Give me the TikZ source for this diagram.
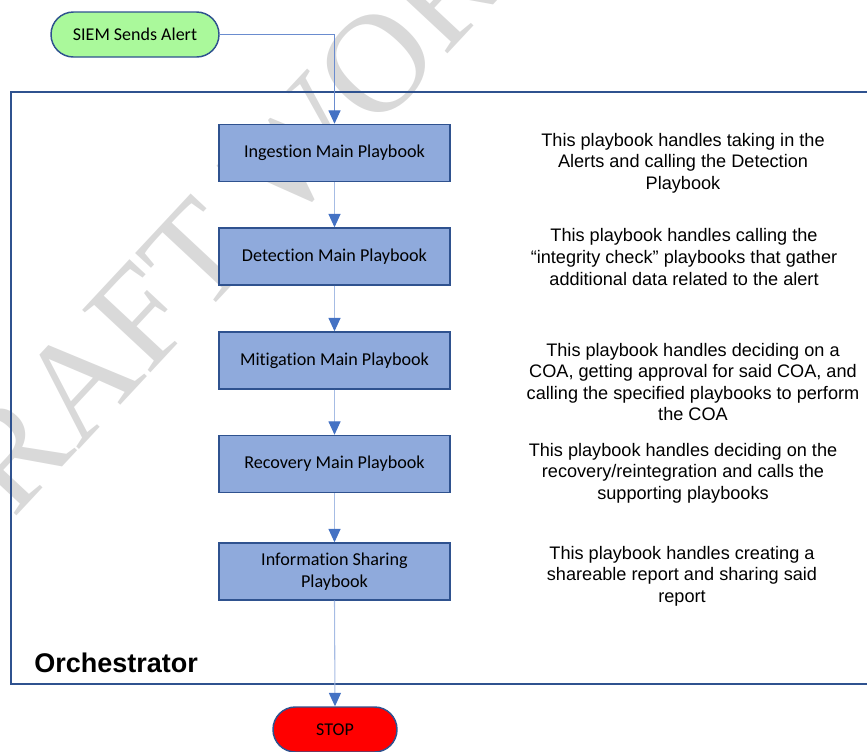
\documentclass[tikz,border=0pt]{standalone}
\usepackage{fontspec}
\setmainfont{Liberation Sans}
\newfontfamily\calib[Ligatures=NoCommon]{Carlito}
\newfontfamily\wmark{Liberation Serif}
\usetikzlibrary{arrows.meta,positioning}

\definecolor{edgeblue}{HTML}{2F528F}
\definecolor{boxfill}{HTML}{8FAADC}
\definecolor{startfill}{HTML}{AAF99B}
\definecolor{stopfill}{HTML}{FF0000}
\definecolor{tipblue}{HTML}{4472C4}
\definecolor{paleline}{HTML}{A6BCE4}
\definecolor{feedline}{HTML}{6A8CCF}
\definecolor{wmgray}{HTML}{D9D9D9}

\tikzset{
  terminal/.style={draw=edgeblue, line width=1.1pt, rounded corners=16.8pt,
    minimum width=126pt, minimum height=33.75pt, inner sep=0pt,
    font=\calib\fontsize{13.5}{16.5}\selectfont},
  playbook/.style={draw=edgeblue, fill=boxfill, line width=1.1pt,
    minimum width=173.25pt, minimum height=42.75pt, inner sep=0pt, align=center,
    font=\calib\fontsize{13.6}{16.5}\selectfont},
  note/.style={align=center, inner sep=0pt, font=\fontsize{13.6}{16.2}\selectfont},
  flow/.style={draw=paleline, line width=0.8pt,
    -{Triangle[width=9pt,length=10pt,color=tipblue]}},
}

\begin{document}
\begin{tikzpicture}[x=0.75pt,y=-0.75pt]
\useasboundingbox (0,0) rectangle (867,751);
\begin{scope}
\clip (0,0) rectangle (867,751);

% background watermark
\node[rotate=47, text=wmgray, inner sep=0pt,
      font=\wmark\fontsize{106}{106}\selectfont] (wm) at (228,223) {DRAFT WORK};

% orchestrator frame (runs off the right edge)
\draw[edgeblue, line width=1.5pt] (11,92) rectangle (900,684);
\node[anchor=base west, inner sep=0pt, font=\bfseries\fontsize{20.25}{24}\selectfont]
  (orch) at (34,672) {Orchestrator};

% start / stop terminals
\node[terminal, fill=startfill] (siem) at (135,34.5) {SIEM Sends Alert};
\node[terminal, fill=stopfill, minimum width=93pt] (stop) at (335,729.5) {STOP};

% playbook chain
\node[playbook] (ing) at (334.5,153)   {Ingestion Main Playbook};
\node[playbook] (det) at (334.5,256.5) {Detection Main Playbook};
\node[playbook] (mit) at (334.5,360.5) {Mitigation Main Playbook};
\node[playbook] (rec) at (334.5,464)   {Recovery Main Playbook};
\node[playbook] (inf) at (334.5,571.5) {Information Sharing\\Playbook};

% descriptions
\node[note] (d1) at (683,163) {This playbook handles taking in the\\Alerts and calling the Detection\\Playbook};
\node[note] (d2) at (684,257) {This playbook handles calling the\\``integrity check'' playbooks that gather\\additional data related to the alert};
\node[note] (d3) at (693,382) {This playbook handles deciding on a\\COA, getting approval for said COA, and\\calling the specified playbooks to perform\\the COA};
\node[note] (d4) at (683,473) {This playbook handles deciding on the\\recovery/reintegration and calls the\\supporting playbooks};
\node[note] (d5) at (682,576) {This playbook handles creating a\\shareable report and sharing said\\report};

% connectors
\draw[flow, draw=feedline] (siem.east) -| (ing.north);
\draw[flow] (ing.south) -- (det.north);
\draw[flow] (det.south) -- (mit.north);
\draw[flow] (mit.south) -- (rec.north);
\draw[flow] (rec.south) -- (inf.north);
\draw[flow] (inf.south) -- (stop.north);
\end{scope}
\end{tikzpicture}
\end{document}
